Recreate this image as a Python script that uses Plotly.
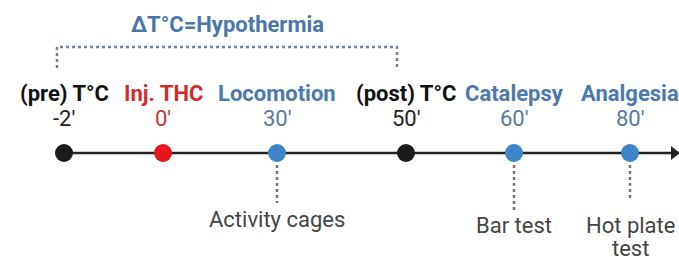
import plotly.graph_objects as go

# ---- data ----
events = ["(pre) T°C", "Inj. THC", "Locomotion", "(post) T°C", "Catalepsy", "Analgesia"]
times = [-2, 0, 30, 50, 60, 80]
kinds = ["temp", "inj", "test", "temp", "test", "test"]
tests = ["", "", "Activity cages", "", "Bar test", "Hot plate<br>test"]
bracket_title = "ΔT°C=Hypothermia"

# ---- layout constants (pixel space) ----
W, H = 679, 257
x_pos = [64, 163, 277, 406, 514, 630]
line_y = 153
label_y = 93
time_y = 118
FONT = "Roboto"
FS = 22

label_col = {"temp": "#111111", "inj": "#d12d2d", "test": "#4a7aae"}
time_col = {"temp": "#222222", "inj": "#c43a34", "test": "#557aa3"}
dot_col = {"temp": "#1b1b1b", "inj": "#e8141a", "test": "#3d85c6"}

fig = go.Figure()

# timeline axis line
fig.add_trace(go.Scatter(x=[x_pos[0], W - 8], y=[line_y, line_y], mode="lines",
                         line=dict(color="#222222", width=2.5), hoverinfo="skip"))
# arrow head
fig.add_trace(go.Scatter(x=[W - 5], y=[line_y], mode="markers",
                         marker=dict(symbol="triangle-right", size=12, color="#222222"),
                         hoverinfo="skip"))

# dotted connectors to test labels
for xp, k, t in zip(x_pos, kinds, tests):
    if t:
        bottom = 210 if "Bar" in t else (200 if "Hot" in t else 203)
        fig.add_trace(go.Scatter(x=[xp, xp], y=[line_y + 12, bottom], mode="lines",
                                 line=dict(color="#777777", width=2.5, dash="dot"),
                                 hoverinfo="skip"))

# event dots
fig.add_trace(go.Scatter(x=x_pos, y=[line_y] * len(x_pos), mode="markers",
                         marker=dict(size=18, color=[dot_col[k] for k in kinds],
                                     line=dict(width=0)),
                         hoverinfo="skip"))

# bracket for hypothermia (between pre and post temperature)
bx0, bx1 = x_pos[0] - 7, x_pos[3] - 9
fig.add_trace(go.Scatter(x=[bx0, bx0, bx1, bx1], y=[68, 47, 47, 68], mode="lines",
                         line=dict(color="#6f819b", width=2.5, dash="dot"),
                         hoverinfo="skip"))

annotations = [dict(x=(bx0 + bx1) / 2, y=24, text="<b>" + bracket_title + "</b>",
                    showarrow=False, font=dict(family=FONT, size=FS, color="#4a77ab"))]
for xp, ev, tm, k, t in zip(x_pos, events, times, kinds, tests):
    annotations.append(dict(x=xp, y=label_y, text="<b>" + ev + "</b>", showarrow=False,
                            borderpad=0,
                            font=dict(family=FONT, size=FS, color=label_col[k])))
    annotations.append(dict(x=xp, y=time_y, text=f"{tm}'", showarrow=False,
                            borderpad=0,
                            font=dict(family=FONT, size=FS, color=time_col[k])))
    if t:
        ty = 219 if "Activity" in t else 225
        for i, line in enumerate(t.split("<br>")):
            annotations.append(dict(x=xp, y=ty + 23 * i, text=line, showarrow=False,
                                    borderpad=0,
                                    font=dict(family=FONT, size=FS, color="#444444")))

fig.update_layout(
    width=W, height=H, margin=dict(l=0, r=0, t=0, b=0),
    paper_bgcolor="white", plot_bgcolor="white", showlegend=False,
    xaxis=dict(range=[0, W], visible=False, fixedrange=True),
    yaxis=dict(range=[H, 0], visible=False, fixedrange=True),
    annotations=annotations,
)
fig.write_html("out.html", config={"displayModeBar": False},
               post_script="document.body.style.margin='0';document.body.style.overflow='hidden';")
